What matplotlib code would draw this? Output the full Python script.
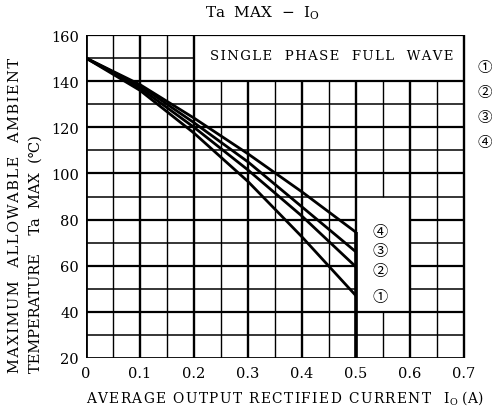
import numpy as np
import matplotlib
matplotlib.use("Agg")
import matplotlib.pyplot as plt

plt.rcParams['font.family'] = ['DejaVu Serif', 'DejaVu Sans', 'Noto Sans CJK JP']
plt.rcParams['mathtext.fontset'] = 'custom'
plt.rcParams['mathtext.rm'] = 'DejaVu Serif'

# ---- data
current = [0.0, 0.1, 0.2, 0.3, 0.4, 0.5]
ta_curve1 = [150, 136.0, 117.5, 96.5, 72.5, 47.0]
ta_curve2 = [150, 137.0, 120.0, 101.5, 81.5, 59.5]
ta_curve3 = [150, 138.0, 122.0, 105.0, 85.5, 66.0]
ta_curve4 = [150, 138.5, 124.0, 108.5, 92.0, 74.5]
curve_labels = ["①", "②", "③", "④"]
cutoff_current = 0.5
x_ticks = [0, 0.1, 0.2, 0.3, 0.4, 0.5, 0.6, 0.7]
x_ticklabels = ["0", "0.1", "0.2", "0.3", "0.4", "0.5", "0.6", "0.7"]
y_ticks = [20, 40, 60, 80, 100, 120, 140, 160]


def spaced(s, sep="\u200a"):
    # loose letter spacing like the scanned original
    return sep.join(s)


W, H = 492, 410
fig = plt.figure(figsize=(W / 100, H / 100), dpi=100)
ax = fig.add_axes([86 / W, 1 - 359 / H, 1 - 86 / W, (359 - 36) / H])
ax.set_xlim(0, 0.752)
ax.set_ylim(20, 160)
for s in ax.spines.values():
    s.set_visible(False)

# ---- grid, with the white boxes left open
# box A: title box (0.2..0.7, 140..160); box B: label box (0.5..0.6, 40..90)
k = "black"
for i in range(15):
    x = round(i * 0.05, 2)
    lw = 1.7 if i % 2 == 0 else 1.0
    if i == 0:
        lw = 2.0
    if 0.2 < x < 0.7:
        top = 140
    else:
        top = 160
    if x == 0.55:
        ax.vlines(x, 20, 40, color=k, lw=lw)
        ax.vlines(x, 90, top, color=k, lw=lw)
    else:
        ax.vlines(x, 20, top, color=k, lw=lw)

for j in range(15):
    y = 20 + j * 10
    lw = 1.6 if j % 2 == 0 else 1.1
    if j == 0:
        lw = 2.0
    if y == 150:
        ax.hlines(y, 0, 0.2, color=k, lw=lw)
    elif y in (50, 60, 70, 80):
        ax.hlines(y, 0, 0.5, color=k, lw=lw)
        ax.hlines(y, 0.6, 0.7, color=k, lw=lw)
    else:
        ax.hlines(y, 0, 0.7, color=k, lw=lw)

# ---- derating curves
for ys in (ta_curve1, ta_curve2, ta_curve3, ta_curve4):
    ax.plot(current, ys, color=k, lw=2.0, solid_capstyle="butt", zorder=3)
ax.vlines(cutoff_current, 20, max(ta_curve4[-1], ta_curve3[-1]), color=k, lw=2.6, zorder=3)

circ_font = ['Noto Sans CJK JP', 'DejaVu Sans']

# labels at curve ends
label_y = [46.5, 58.0, 66.8, 75.0]
for lab, yy in zip(curve_labels, label_y):
    ax.text(0.545, yy, lab, ha="center", va="center", fontsize=11, family=circ_font)

# legend keys at right edge
key_y = [146.1, 135.3, 124.5, 113.6]
for lab, yy in zip(curve_labels, key_y):
    ax.text(0.726, yy, lab, ha="left", va="center", fontsize=10.5, family=circ_font,
            clip_on=False)

ax.text(0.455, 151.0, spaced("SINGLE  PHASE  FULL  WAVE"),
        ha="center", va="center", fontsize=9.5)

# ---- ticks
ax.set_xticks(x_ticks)
ax.set_xticklabels(x_ticklabels)
ax.set_yticks(y_ticks)
ax.tick_params(length=0, labelsize=10.5)
ax.tick_params(axis="x", pad=6)
ax.tick_params(axis="y", pad=5)

# ---- titles and axis labels
fig.text(262 / W, 1 - 13 / H, r"Ta  MAX  $-$  I$_\mathregular{O}$", ha="center", va="center", fontsize=11)
fig.text(285 / W, 1 - 398 / H,
         spaced("AVERAGE OUTPUT RECTIFIED CURRENT") + r"   I$_\mathregular{O}$ (A)",
         ha="center", va="center", fontsize=9.9)
fig.text(15 / W, 1 - 373 / H, spaced("MAXIMUM  ALLOWABLE  AMBIENT"), rotation=90,
         ha="center", va="bottom", fontsize=10.5)
fig.text(36 / W, 1 - 373 / H, "TEMPERATURE    Ta  MAX  (℃)", rotation=90,
         ha="center", va="bottom", fontsize=10.5)

fig.savefig("out.png", dpi=100)
